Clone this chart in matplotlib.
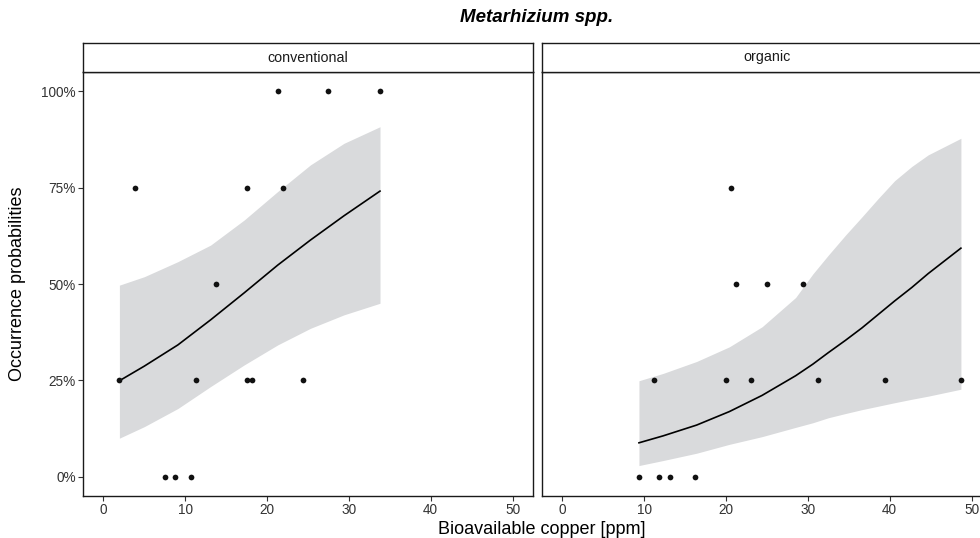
import matplotlib
matplotlib.use("Agg")
import matplotlib.pyplot as plt
from matplotlib.ticker import FuncFormatter

plt.rcParams['font.family'] = ['Liberation Sans', 'DejaVu Sans']

# observed occurrence (proportion of samples) vs bioavailable copper
conv_x = [21.3, 27.5, 33.8, 3.8, 17.5, 21.9, 13.8, 1.95, 11.3, 17.5, 18.2, 24.4, 7.5, 8.8, 10.7]
conv_y = [1.0, 1.0, 1.0, 0.75, 0.75, 0.75, 0.5, 0.25, 0.25, 0.25, 0.25, 0.25, 0.0, 0.0, 0.0]
org_x = [20.6, 21.2, 25.0, 29.4, 11.2, 20.0, 23.0, 31.2, 39.4, 48.7, 9.35, 11.8, 13.1, 16.2]
org_y = [0.75, 0.5, 0.5, 0.5, 0.25, 0.25, 0.25, 0.25, 0.25, 0.25, 0.0, 0.0, 0.0, 0.0]

# fitted curve and confidence band
conv_fx = [1.95, 5.0, 9.1, 13.1, 17.2, 21.3, 25.3, 29.4, 33.8]
conv_fit = [0.249, 0.287, 0.342, 0.407, 0.477, 0.549, 0.614, 0.677, 0.741]
conv_hi = [0.497, 0.519, 0.558, 0.601, 0.666, 0.740, 0.809, 0.865, 0.908]
conv_lo = [0.100, 0.130, 0.177, 0.234, 0.290, 0.342, 0.385, 0.420, 0.450]

org_fx = [9.35, 12.3, 16.4, 20.4, 24.4, 28.5, 30.6, 32.5, 34.6, 36.6, 38.6, 40.6, 42.7, 44.7, 48.7]
org_fit = [0.088, 0.106, 0.134, 0.169, 0.211, 0.262, 0.292, 0.322, 0.354, 0.386, 0.421, 0.456,
           0.491, 0.527, 0.593]
org_hi = [0.249, 0.268, 0.299, 0.337, 0.389, 0.465, 0.526, 0.575, 0.627, 0.674, 0.722, 0.768,
          0.805, 0.835, 0.878]
org_lo = [0.029, 0.042, 0.061, 0.084, 0.104, 0.128, 0.140, 0.153, 0.164, 0.174, 0.183, 0.192,
          0.201, 0.209, 0.227]

panels = ['conventional', 'organic']
x_ticks = [0, 10, 20, 30, 40, 50]
y_ticks = [0, 0.25, 0.5, 0.75, 1.0]

W, H = 980, 538
fig = plt.figure(figsize=(W / 100, H / 100), dpi=100)


def fx(px):
    return px / W


def fy(py):
    return 1 - py / H


panel_left = [83, 542]
panel_w = 450
panel_top, panel_bot, strip_top = 72, 496, 43

data = [
    (conv_x, conv_y, conv_fx, conv_fit, conv_lo, conv_hi),
    (org_x, org_y, org_fx, org_fit, org_lo, org_hi),
]

for i, name in enumerate(panels):
    px, py, sx, sfit, slo, shi = data[i]
    ax = fig.add_axes([fx(panel_left[i]), fy(panel_bot), panel_w / W, (panel_bot - panel_top) / H])
    ax.fill_between(sx, slo, shi, color='#d9dadc', lw=0, zorder=1)
    ax.plot(sx, sfit, color='black', lw=1.2, zorder=2)
    ax.scatter(px, py, s=17, color='#111111', lw=0, zorder=3)
    ax.set_xlim(-2.5, 52.5)
    ax.set_ylim(-0.05, 1.05)
    ax.set_xticks(x_ticks)
    ax.set_yticks(y_ticks)
    ax.yaxis.set_major_formatter(FuncFormatter(lambda v, p: f'{v * 100:.0f}%'))
    ax.tick_params(direction='out', length=3.5, width=0.8, color='#333333',
                   labelsize=9.8, labelcolor='#333333', pad=1.5)
    if i == 1:
        ax.tick_params(axis='y', left=False, labelleft=False)
    for sp in ax.spines.values():
        sp.set_linewidth(1.0)
        sp.set_color('#1a1a1a')

    # facet strip
    st = fig.add_axes([fx(panel_left[i]), fy(panel_top), panel_w / W, (panel_top - strip_top) / H])
    st.set_xticks([])
    st.set_yticks([])
    for sp in st.spines.values():
        sp.set_linewidth(1.0)
        sp.set_color('#1a1a1a')
    st.text(0.5, 0.5, name, ha='center', va='center', fontsize=10.3, color='#1a1a1a',
            transform=st.transAxes)

fig.text(fx(537), fy(18), 'Metarhizium spp.', ha='center', va='center',
         fontsize=13.5, fontweight='bold', fontstyle='italic')
fig.text(fx(542), fy(529), 'Bioavailable copper [ppm]', ha='center', va='center', fontsize=13)
fig.text(fx(18), fy(284), 'Occurrence probabilities', ha='center', va='center',
         rotation=90, fontsize=13)

fig.savefig('out.png', dpi=100)
